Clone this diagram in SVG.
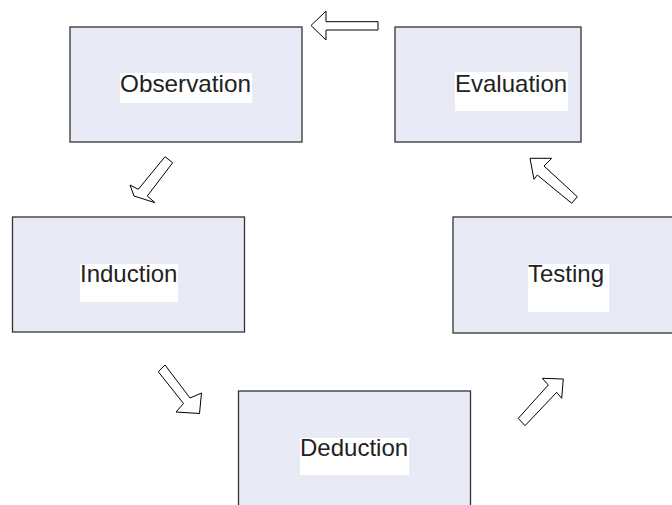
<svg xmlns="http://www.w3.org/2000/svg" width="672" height="505" viewBox="0 0 672 505">
  <style>
    .box { fill: #e8ebf6; stroke: #333333; stroke-width: 1.3; }
    .tag { fill: #ffffff; }
    .lbl { font-family: "Liberation Sans", Arial, sans-serif; font-size: 24px; fill: #222222; }
    .arrow { fill: #ffffff; stroke: #000000; stroke-width: 1; stroke-linejoin: miter; }
  </style>
  <rect width="672" height="505" fill="#ffffff"/>

  <g id="observation">
    <rect class="box" x="70" y="27" width="232" height="115"/>
    <rect class="tag" x="120" y="73" width="132" height="30"/>
    <text class="lbl" x="120" y="91.5" textLength="131" lengthAdjust="spacingAndGlyphs">Observation</text>
  </g>

  <g id="evaluation">
    <rect class="box" x="395" y="27" width="186" height="115"/>
    <rect class="tag" x="455" y="72" width="113" height="39"/>
    <text class="lbl" x="455" y="92">Evaluation</text>
  </g>

  <g id="induction">
    <rect class="box" x="12.5" y="217" width="232" height="115"/>
    <rect class="tag" x="80" y="264" width="98" height="38"/>
    <text class="lbl" x="80" y="282">Induction</text>
  </g>

  <g id="testing">
    <rect class="box" x="453" y="217" width="232" height="116"/>
    <rect class="tag" x="528" y="264" width="81" height="48"/>
    <text class="lbl" x="528" y="282">Testing</text>
  </g>

  <g id="deduction">
    <rect class="box" x="238.5" y="391" width="232" height="130"/>
    <rect class="tag" x="300" y="438" width="109" height="37"/>
    <text class="lbl" x="300" y="456">Deduction</text>
  </g>

  <g id="connectors">
    <!-- Evaluation to Observation -->
    <polygon class="arrow" points="311,25.5 326,11 326,21.7 378,21.7 378,30 326,30 326,40"/>
    <!-- Observation to Induction -->
    <polygon class="arrow" points="165,156.7 172.7,162.7 147.3,196 155,202.7 134,196 130,185 138.3,189.3"/>
    <!-- Induction to Deduction -->
    <polygon class="arrow" points="165,365 158.3,371.7 183.5,403.5 176,412 199.5,413.5 201.5,393 190,398"/>
    <!-- Deduction to Testing -->
    <polygon class="arrow" points="563.3,379 561.7,398.3 556.7,392.3 525,425.7 518.3,418.3 548.3,385 542.3,378.3"/>
    <!-- Testing to Evaluation -->
    <polygon class="arrow" points="530,158.3 551.7,158.3 544,166 577.3,196.7 571.7,203.3 537.3,175 534,179.3"/>
  </g>
</svg>
